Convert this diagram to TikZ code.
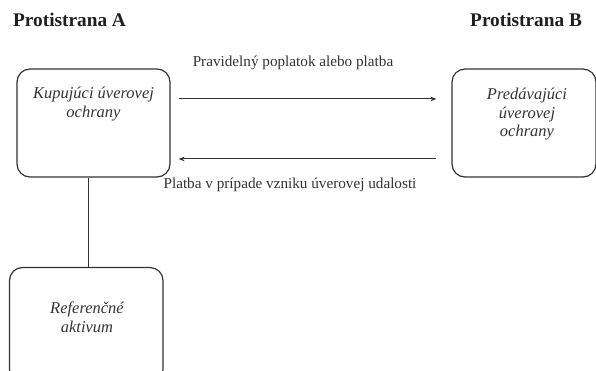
\documentclass[tikz,border=0pt]{standalone}
\usepackage{fontspec}
\setmainfont{Liberation Serif}
\usetikzlibrary{arrows.meta,calc}
\definecolor{ink}{HTML}{333333}
\tikzset{
  boxnode/.style={draw=ink, line width=1.2pt, rounded corners=13pt, inner sep=0pt},
  boxtext/.style={text=ink, align=center, font=\fontsize{16.5}{18.5}\selectfont\itshape, inner sep=0pt, anchor=north},
  title/.style={text=black!88, font=\fontsize{19.3}{22}\selectfont\bfseries, inner sep=0pt, anchor=base west},
  lbl/.style={text=ink, font=\fontsize{15.2}{18}\selectfont, inner sep=0pt},
  conn/.style={draw=ink, line width=1pt},
  arr/.style={conn, -{Stealth[length=6pt,width=4.5pt]}}
}
\begin{document}
\begin{tikzpicture}[x=1pt,y=-1pt]
\useasboundingbox (0,0) rectangle (596,371);
\node[title] (tA) at (13,27) {Protistrana A};
\node[title] (tB) at (470,27) {Protistrana B};
\node[boxnode, minimum width=153pt, minimum height=108pt] (A) at (93.5,123) {};
\node[boxnode, minimum width=144pt, minimum height=108pt] (B) at (524,123) {};
\node[boxnode, minimum width=153.5pt, minimum height=115pt] (R) at (86.25,325) {};
\node[boxtext] (Atx) at (93.5,87) {Kupujúci úverovej\\ochrany};
\node[boxtext] (Btx) at (527,88) {Predávajúci\\úverovej\\ochrany};
\node[boxtext] (Rtx) at (87,302) {Referenčné\\aktivum};
\draw[arr] ($(A.east)+(8,-24)$) -- ($(B.west)+(-15,-24)$);
\draw[arr] ($(B.west)+(-15,36)$) -- ($(A.east)+(8,36)$);
\node[lbl] (l1) at (293,63) {Pravidelný poplatok alebo platba};
\node[lbl] (l2) at (290,185) {Platba v prípade vzniku úverovej udalosti};
\draw[conn] ([xshift=-5.5pt]A.south) -- ([xshift=-5.5pt]A.south |- R.north);
\end{tikzpicture}
\end{document}
